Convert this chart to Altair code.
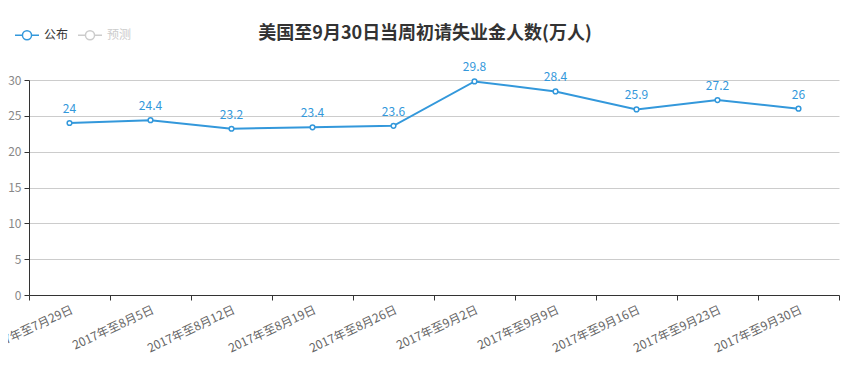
import altair as alt
import pandas as pd

weeks = ["2017年至7月29日", "2017年至8月5日", "2017年至8月12日", "2017年至8月19日",
         "2017年至8月26日", "2017年至9月2日", "2017年至9月9日", "2017年至9月16日",
         "2017年至9月23日", "2017年至9月30日"]
values = [24, 24.4, 23.2, 23.4, 23.6, 29.8, 28.4, 25.9, 27.2, 26]
series_names = ["公布", "预测"]
series_colors = ["#3398DB", "#cccccc"]

df = pd.DataFrame({"week": weeks, "value": values, "series": [series_names[0]] * len(weeks)})

FONT = "Noto Sans CJK SC"
sym = ("M-1,0L-0.38,0M0.38,0L1,0M-0.38,0A0.38,0.38,0,1,1,0.38,0"
       "A0.38,0.38,0,1,1,-0.38,0")

x = alt.X("week:N", sort=weeks, title=None,
          scale=alt.Scale(paddingInner=0, paddingOuter=0),
          axis=alt.Axis(labelAngle=-25, labelAlign="right", labelBaseline="top",
                        tickBand="extent", labelFontSize=12, labelColor="#666",
                        labelFont=FONT, domainColor="#333", tickColor="#333",
                        tickSize=5, labelPadding=4, grid=False, labelOverlap=False))
y = alt.Y("value:Q", title=None,
          scale=alt.Scale(domain=[0, 30], nice=False),
          axis=alt.Axis(values=[0, 5, 10, 15, 20, 25, 30], labelFontSize=12,
                        labelColor="#888", labelFont=FONT, domainColor="#333",
                        tickColor="#333", tickSize=5, gridColor="#cccccc",
                        labelPadding=3))
color = alt.Color("series:N", title=None,
                  scale=alt.Scale(domain=series_names, range=series_colors),
                  legend=alt.Legend(orient="none", legendX=-15, legendY=-58,
                                    direction="horizontal", symbolType=sym,
                                    symbolSize=576, symbolStrokeWidth=1.5,
                                    symbolFillColor="white", labelFontSize=12,
                                    labelFont=FONT, columnPadding=6,
                                    labelColor=alt.ExprRef(expr="datum.label == '预测' ? '#cccccc' : '#333333'")))

base = alt.Chart(df).encode(x=x, y=y)
line = base.mark_line(strokeWidth=2).encode(color=color)
pts = base.mark_point(filled=True, fill="white", size=22, strokeWidth=1.5, opacity=1).encode(
    stroke=alt.Stroke("series:N", scale=alt.Scale(domain=series_names, range=series_colors), legend=None))
labels = base.mark_text(dy=-14, fontSize=12, font=FONT, color="#3398DB").encode(text="value:Q")

chart = (line + pts + labels).properties(
    width=810, height=215,
    title=alt.TitleParams("美国至9月30日当周初请失业金人数(万人)", fontSize=18,
                          fontWeight="bold", font=FONT, color="#333", offset=-21, dx=-9),
    autosize=alt.AutoSizeParams(type="none"),
    padding={"left": 21, "top": 72, "right": 4, "bottom": 70},
).configure_view(stroke=None)

chart.save("out.html", embed_options={"renderer": "svg", "actions": False})
